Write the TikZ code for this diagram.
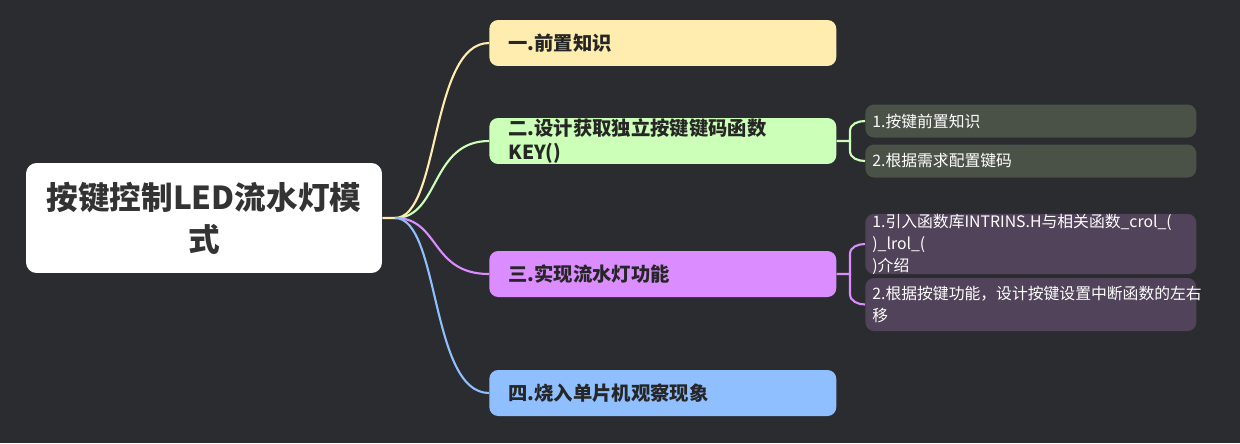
\documentclass[tikz,border=0pt]{standalone}
\usepackage{fontspec}
\setmainfont{Noto Sans CJK SC}
\begin{document}
\begin{tikzpicture}[x=0.02cm,y=-0.02cm,
 br/.style={rounded corners=5pt,minimum height=0.92cm,inner xsep=0.38cm,inner ysep=0pt,text width=6.18cm,align=left,font=\bfseries\fontsize{11pt}{14pt}\selectfont,text=black!85,anchor=west},
 lf/.style={rounded corners=5pt,inner xsep=0.14cm,inner ysep=0pt,text width=6.34cm,align=left,font=\fontsize{9pt}{12.5pt}\selectfont,text=white,anchor=west},
 ln/.style={line width=1.2pt}]
\definecolor{bg}{HTML}{2B2C30}
\definecolor{cy}{HTML}{FFEDB0}\definecolor{cg}{HTML}{CCFFB8}\definecolor{cp}{HTML}{DB8CFF}\definecolor{cb}{HTML}{8FBFFF}
\definecolor{lg}{HTML}{4A5248}\definecolor{lp}{HTML}{514359}
\fill[bg] (0,0) rectangle (1240,443);
\useasboundingbox (0,0) rectangle (1240,443);
\node[fill=white,rounded corners=6pt,minimum width=7.12cm,minimum height=2.2cm,text width=6.6cm,align=center,font=\bfseries\fontsize{18pt}{24pt}\selectfont,text=black!80] (root) at (204,218) {按键控制LED流水灯模\\式};
\node[br,fill=cy] (b1) at (489,43) {一.前置知识};
\node[br,fill=cg] (b2) at (489,141) {二.设计获取独立按键键码函数 KEY()};
\node[br,fill=cp] (b3) at (489,274) {三.实现流水灯功能};
\node[br,fill=cb] (b4) at (489,393) {四.烧入单片机观察现象};
\node[lf,fill=lg,minimum height=0.66cm] (l1) at (865,121) {1.按键前置知识};
\node[lf,fill=lg,minimum height=0.66cm] (l2) at (865,161) {2.根据需求配置键码};
\node[lf,fill=lp,minimum height=1.08cm] (l3) at (865,244) {1.引入函数库INTRINS.H与相关函数\_crol\_( )\_lrol\_(\\)介绍};
\node[lf,fill=lp,minimum height=1.06cm] (l4) at (865,304.5) {2.根据按键功能，设计按键设置中断函数的左右\\移};
\coordinate (o) at (395,218);
\draw[ln,cy] (root.east) -- (o) .. controls (440,218) and (430,43) .. (b1.west);
\draw[ln,cg] (o) .. controls (440,218) and (430,141) .. (b2.west);
\draw[ln,cp] (o) .. controls (440,218) and (430,274) .. (b3.west);
\draw[ln,cb] (o) .. controls (440,218) and (430,393) .. (b4.west);
\draw[ln,cg] (b2.east) -- (850,141) -- (850,131) to[out=90,in=180] (l1.west);
\draw[ln,cg] (850,141) -- (850,151) to[out=-90,in=180] (l2.west);
\draw[ln,cp] (b3.east) -- (850,274) -- (850,254) to[out=90,in=180] (l3.west);
\draw[ln,cp] (850,274) -- (850,294) to[out=-90,in=180] (l4.west);
\end{tikzpicture}
\end{document}
